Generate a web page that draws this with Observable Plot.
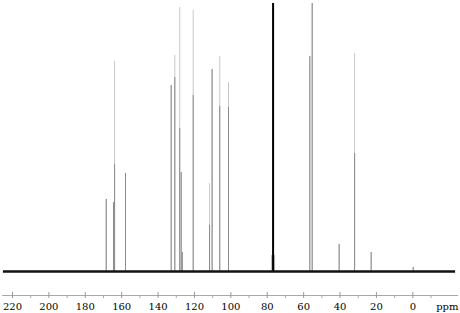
<!DOCTYPE html>
<html>
<head>
<meta charset="utf-8">
<script src="https://cdn.jsdelivr.net/npm/d3@7"></script>
<script src="https://cdn.jsdelivr.net/npm/@observablehq/plot@0.6"></script>
<style>
  html, body { margin: 0; padding: 0; background: white; }
</style>
</head>
<body>
<div id="chart"></div>
<script>
// Chemical shifts (ppm) of the peaks
const peakPpm    = [168.5, 164.5, 163.9, 157.9, 132.8, 130.8, 128.1, 127.3, 126.7, 120.7, 111.7, 110.3, 106.1, 101.3, 56.6, 55.3, 40.5, 32.0, 22.9, -0.2];
// Peak heights (relative intensity, tallest = 100)
const peakHeight = [26.9, 25.7, 78.4, 36.6, 69.4, 80.6, 98.5, 36.9, 7.1, 97.4, 32.8, 75.4, 80.2, 70.5, 80.2, 100, 10.1, 81.3, 7.1, 1.5];
// Height of the dense (darker) lower part of each peak
const peakCore   = [26.9, 25.7, 40.0, 36.6, 69.4, 72.4, 53.4, 36.9, 7.1, 65.7, 17.2, 75.4, 61.6, 61.2, 80.2, 100, 10.1, 44.0, 7.1, 1.5];
// Solvent (CDCl3) signal
const solventPpm = [76.8];
const solventHeight = [100];
const solventFoot = [6];
// Axis
const majorTicks = [220, 200, 180, 160, 140, 120, 100, 80, 60, 40, 20, 0];
const minorTicks = [210, 190, 170, 150, 130, 110, 90, 70, 50, 30, 10, -10];
const axisUnit = ["ppm"];
const xDomain = [225.5, -25.1];
const yDomain = [-8.96, 100];
const baselineRange = [225, -23.5];

const serif = "DejaVu Serif";

const peaks = peakPpm.map((p, i) => ({ppm: p, height: peakHeight[i], core: peakCore[i]}));
const solvent = solventPpm.map((p, i) => ({ppm: p, height: solventHeight[i], foot: solventFoot[i]}));

const chart = Plot.plot({
  width: 460,
  height: 313,
  marginLeft: 2,
  marginRight: 2,
  marginTop: 3,
  marginBottom: 18,
  style: {fontFamily: serif, fontSize: "10px", color: "black", background: "white"},
  x: {domain: xDomain, ticks: majorTicks, tickSize: 0, tickPadding: 7, label: null},
  y: {domain: yDomain, axis: null},
  marks: [
    Plot.ruleY([yDomain[0]], {stroke: "#a8a8a8", strokeWidth: 1}),
    Plot.ruleX(majorTicks, {x: d => d, y1: -7.84, y2: -10.1, stroke: "#999"}),
    Plot.ruleX(minorTicks, {x: d => d, y1: -9.2, y2: -10.1, stroke: "#aaa"}),
    Plot.ruleX(peaks, {x: "ppm", y1: 0, y2: "height", stroke: "#c8c8c8", strokeWidth: 1}),
    Plot.ruleX(peaks, {x: "ppm", y1: 0, y2: "core", stroke: "#8a8a8a", strokeWidth: 1}),
    Plot.ruleX(solvent, {x: "ppm", y1: 0, y2: "foot", stroke: "#bbb", strokeWidth: 4}),
    Plot.ruleX(solvent, {x: "ppm", y1: 0, y2: "height", stroke: "black", strokeWidth: 2}),
    Plot.ruleY([0], {x1: baselineRange[0], x2: baselineRange[1], stroke: "#111", strokeWidth: 2.6}),
    Plot.text(axisUnit, {text: d => d, frameAnchor: "bottom-right", textAnchor: "end", lineAnchor: "middle", dy: 11, fontSize: 10, fontFamily: serif})
  ]
});
d3.select(chart).selectAll("text").attr("font-family", serif).style("font-family", serif);
document.getElementById("chart").appendChild(chart);
</script>
</body>
</html>
